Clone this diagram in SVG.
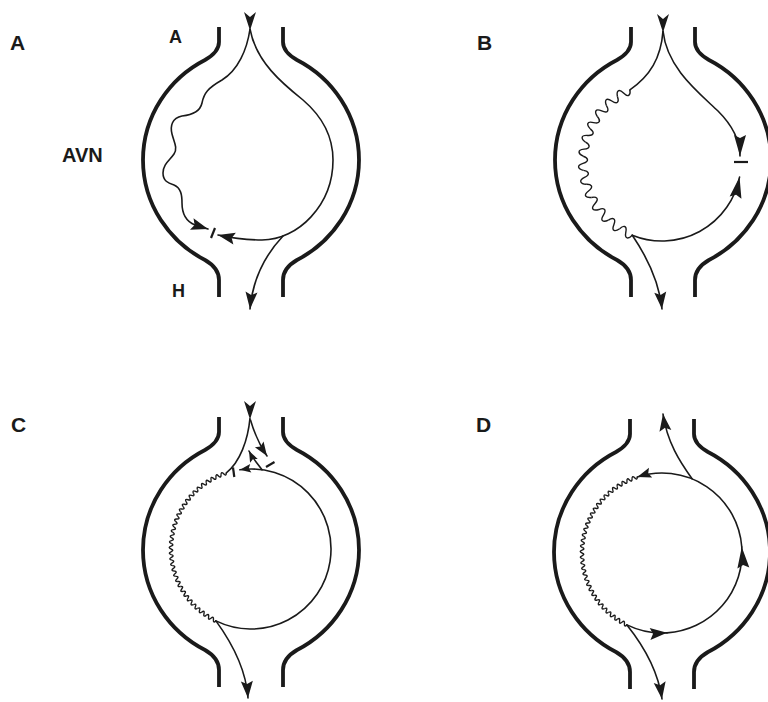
<svg xmlns="http://www.w3.org/2000/svg" xmlns:xlink="http://www.w3.org/1999/xlink" width="768" height="702" viewBox="0 0 768 702">
<style>
.wall{fill:none;stroke:#1a1a1a;stroke-width:3.8;stroke-linecap:butt;stroke-linejoin:round}
.ln{fill:none;stroke:#1a1a1a;stroke-width:1.6;stroke-linecap:round}
.wv{fill:none;stroke:#1a1a1a;stroke-width:1.4;stroke-linejoin:round}
.bar{stroke:#1a1a1a;stroke-width:2.2;stroke-linecap:butt}
.hd{fill:#1a1a1a}
.lbl{font-family:"Liberation Sans",Arial,sans-serif;font-weight:bold;fill:#1a1a1a}
.big{font-size:21px}
.sm{font-size:18px}
</style>
<defs>
<marker id="ah" viewBox="-18 -7 19 14" refX="0" refY="0" markerWidth="19" markerHeight="14" markerUnits="userSpaceOnUse" orient="auto"><path class="hd" d="M0,0 L-17,-6 L-14,0 L-17,6 Z"/></marker>
<marker id="al" viewBox="-22 -7 23 14" refX="0" refY="0" markerWidth="23" markerHeight="14" markerUnits="userSpaceOnUse" orient="auto"><path class="hd" d="M0,0 L-21,-6 L-18,0 L-21,6 Z"/></marker>
<marker id="am" viewBox="-15 -6 16 12" refX="0" refY="0" markerWidth="16" markerHeight="12" markerUnits="userSpaceOnUse" orient="auto"><path class="hd" d="M0,0 L-14,-5.2 L-11.5,0 L-14,5.2 Z"/></marker>
<marker id="as" viewBox="-12 -5 13 10" refX="0" refY="0" markerWidth="13" markerHeight="10" markerUnits="userSpaceOnUse" orient="auto"><path class="hd" d="M0,0 L-11,-4.3 L-9,0 L-11,4.3 Z"/></marker>
<path id="walls" class="wall" d="M-32,0 L-32,15 Q-32,25 -46,33 C-81,51 -108,88 -108,133 C-108,178 -81,215 -46,233 Q-32,241 -32,253 L-32,270 M32,0 L32,15 Q32,25 46,33 C81,51 108,88 108,133 C108,178 81,215 46,233 Q32,241 32,253 L32,270"/>
<path id="ta" class="hd" d="M-6,-17 L0,-12 L6,-17 L0.8,-1 L0,0 L-0.8,-1 Z"/>
<path id="wB" class="wv" d="M-7.09,-78.68 C-5.5,-84 -2,-86 0,-79 C2,-72 5.5,-74 7.09,-78.68"/>
<path id="wF" class="wv" d="M-2.79,-79.95 Q-1.4,-83.6 0,-80 Q1.4,-76.4 2.79,-79.95"/>
</defs>

<g id="labels">
<text class="lbl big" x="10" y="50">A</text>
<text class="lbl big" x="477" y="50">B</text>
<text class="lbl big" x="11" y="432">C</text>
<text class="lbl big" x="476" y="432">D</text>
<text class="lbl sm" x="169" y="43">A</text>
<text class="lbl" style="font-size:20px" x="62" y="162">AVN</text>
<text class="lbl sm" x="172" y="297">H</text>
</g>

<g id="panelA">
<use href="#walls" transform="translate(251,27)"/>
<use href="#ta" transform="translate(250,29)"/>
<g id="connA">
<path class="ln" marker-end="url(#ah)" d="M250,29 C247,50 238,70 222,80 C208,88 204,93 202,103 C200,112 192,115 182,116 C172,118 170,126 172,134 C174,142 178,148 174,154 C170,160 163,164 163,173 C163,181 168,183 174,185 C181,188 182,195 182,203 C182,212 185,221 195,225 L208,229"/>
<path class="ln" marker-end="url(#ah)" d="M250,29 C256,62 283,84 303,100 C324,118 333,137 333,160 C333,205 298,240 262,240 C245,240 232,238 218,235"/>
<path class="ln" marker-end="url(#ah)" d="M283,236 C268,252 253,275 250,309"/>
<line class="bar" x1="211" y1="238" x2="215" y2="228"/>
</g>
</g>

<g id="panelB">
<use href="#walls" transform="translate(663,27)"/>
<use href="#ta" transform="translate(663,31)"/>
<g id="connB">
<path class="ln" d="M663,31 C661,58 650,76 629.9,89.8"/>
<g transform="translate(662,162)">
<use href="#wB" transform="rotate(330.85)"/><use href="#wB" transform="rotate(320.55)"/><use href="#wB" transform="rotate(310.25)"/><use href="#wB" transform="rotate(299.95)"/><use href="#wB" transform="rotate(289.65)"/><use href="#wB" transform="rotate(279.35)"/><use href="#wB" transform="rotate(269.05)"/><use href="#wB" transform="rotate(258.75)"/><use href="#wB" transform="rotate(248.45)"/><use href="#wB" transform="rotate(238.15)"/><use href="#wB" transform="rotate(227.85)"/><use href="#wB" transform="rotate(217.55)"/><use href="#wB" transform="rotate(207.25)"/>
</g>
<path class="ln" marker-end="url(#al)" d="M632.28,235.19 A79,79 0 0 0 739.55,177.07"/>
<path class="ln" marker-end="url(#al)" d="M663,31 C667,68 698,92 718,111 C733,126 740,140 740,156"/>
<line class="bar" x1="734" y1="162" x2="748" y2="162"/>
<path class="ln" marker-end="url(#ah)" d="M632.3,235.2 C645,254 659,280 662,309"/>
</g>
</g>

<g id="panelC">
<use href="#walls" transform="translate(251,417)"/>
<use href="#ta" transform="translate(250,418)"/>
<g id="connC">
<path class="ln" d="M250,418 C248,440 240,462 226.3,472.9"/>
<g transform="translate(251,549)">
<use href="#wF" transform="rotate(340)"/><use href="#wF" transform="rotate(336)"/><use href="#wF" transform="rotate(332)"/><use href="#wF" transform="rotate(328)"/><use href="#wF" transform="rotate(324)"/><use href="#wF" transform="rotate(320)"/><use href="#wF" transform="rotate(316)"/><use href="#wF" transform="rotate(312)"/><use href="#wF" transform="rotate(308)"/><use href="#wF" transform="rotate(304)"/><use href="#wF" transform="rotate(300)"/><use href="#wF" transform="rotate(296)"/><use href="#wF" transform="rotate(292)"/><use href="#wF" transform="rotate(288)"/><use href="#wF" transform="rotate(284)"/><use href="#wF" transform="rotate(280)"/><use href="#wF" transform="rotate(276)"/><use href="#wF" transform="rotate(272)"/><use href="#wF" transform="rotate(268)"/><use href="#wF" transform="rotate(264)"/><use href="#wF" transform="rotate(260)"/><use href="#wF" transform="rotate(256)"/><use href="#wF" transform="rotate(252)"/><use href="#wF" transform="rotate(248)"/><use href="#wF" transform="rotate(244)"/><use href="#wF" transform="rotate(240)"/><use href="#wF" transform="rotate(236)"/><use href="#wF" transform="rotate(232)"/><use href="#wF" transform="rotate(228)"/><use href="#wF" transform="rotate(224)"/><use href="#wF" transform="rotate(220)"/><use href="#wF" transform="rotate(216)"/><use href="#wF" transform="rotate(212)"/><use href="#wF" transform="rotate(208)"/>
</g>
<path class="ln" marker-end="url(#as)" d="M215.93,620.90 A80,80 0 1 0 239.87,469.78"/>
<line class="bar" x1="233" y1="467.5" x2="234.3" y2="477"/>
<path class="ln" marker-end="url(#am)" d="M250.5,420 C254,432 259,444 267,456"/>
<line class="bar" x1="266" y1="467" x2="274.5" y2="462"/>
<path class="ln" marker-end="url(#as)" d="M262,469.8 C258,464 253,459 249,451"/>
<path class="ln" marker-end="url(#ah)" d="M215.93,620.9 C232,643 246,668 248,698"/>
</g>
</g>

<g id="panelD">
<use href="#walls" transform="translate(662,419)"/>
<g id="connD">
<g transform="translate(662,553)">
<use href="#wF" transform="rotate(340)"/><use href="#wF" transform="rotate(336)"/><use href="#wF" transform="rotate(332)"/><use href="#wF" transform="rotate(328)"/><use href="#wF" transform="rotate(324)"/><use href="#wF" transform="rotate(320)"/><use href="#wF" transform="rotate(316)"/><use href="#wF" transform="rotate(312)"/><use href="#wF" transform="rotate(308)"/><use href="#wF" transform="rotate(304)"/><use href="#wF" transform="rotate(300)"/><use href="#wF" transform="rotate(296)"/><use href="#wF" transform="rotate(292)"/><use href="#wF" transform="rotate(288)"/><use href="#wF" transform="rotate(284)"/><use href="#wF" transform="rotate(280)"/><use href="#wF" transform="rotate(276)"/><use href="#wF" transform="rotate(272)"/><use href="#wF" transform="rotate(268)"/><use href="#wF" transform="rotate(264)"/><use href="#wF" transform="rotate(260)"/><use href="#wF" transform="rotate(256)"/><use href="#wF" transform="rotate(252)"/><use href="#wF" transform="rotate(248)"/><use href="#wF" transform="rotate(244)"/><use href="#wF" transform="rotate(240)"/><use href="#wF" transform="rotate(236)"/><use href="#wF" transform="rotate(232)"/><use href="#wF" transform="rotate(228)"/><use href="#wF" transform="rotate(224)"/><use href="#wF" transform="rotate(220)"/><use href="#wF" transform="rotate(216)"/><use href="#wF" transform="rotate(212)"/><use href="#wF" transform="rotate(208)"/>
</g>
<path class="ln" marker-end="url(#ah)" d="M626.93,624.90 A80,80 0 0 0 667.02,632.84"/>
<path class="ln" marker-end="url(#al)" d="M667.02,632.84 A80,80 0 0 0 741.78,547"/>
<path class="ln" marker-end="url(#am)" d="M741.78,547 A80,80 0 0 0 637.28,476.92"/>
<path class="ln" marker-end="url(#ah)" d="M692.23,478.93 C680,462 667,442 663,414"/>
<path class="ln" marker-end="url(#ah)" d="M626.93,624.9 C643,645 658,670 662,699"/>
</g>
</g>
</svg>
